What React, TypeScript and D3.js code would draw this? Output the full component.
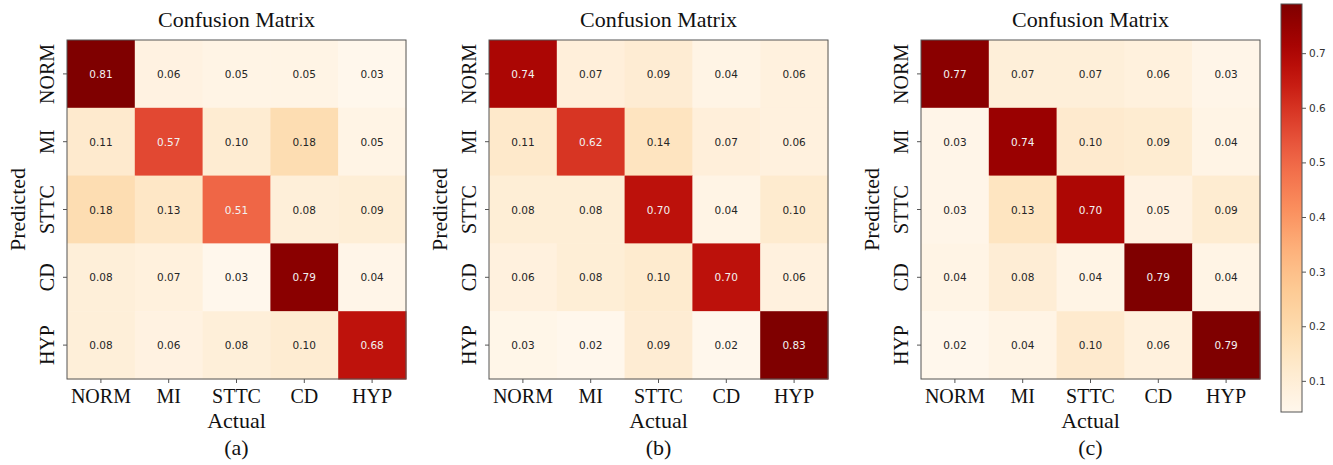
import React, { useEffect, useRef } from 'react';
import * as d3 from 'd3';

const classes = ['NORM', 'MI', 'STTC', 'CD', 'HYP'];
const panelLabels = ['(a)', '(b)', '(c)'];

const matrixA = [
  [0.81, 0.06, 0.05, 0.05, 0.03],
  [0.11, 0.57, 0.10, 0.18, 0.05],
  [0.18, 0.13, 0.51, 0.08, 0.09],
  [0.08, 0.07, 0.03, 0.79, 0.04],
  [0.08, 0.06, 0.08, 0.10, 0.68],
];
const matrixB = [
  [0.74, 0.07, 0.09, 0.04, 0.06],
  [0.11, 0.62, 0.14, 0.07, 0.06],
  [0.08, 0.08, 0.70, 0.04, 0.10],
  [0.06, 0.08, 0.10, 0.70, 0.06],
  [0.03, 0.02, 0.09, 0.02, 0.83],
];
const matrixC = [
  [0.77, 0.07, 0.07, 0.06, 0.03],
  [0.03, 0.74, 0.10, 0.09, 0.04],
  [0.03, 0.13, 0.70, 0.05, 0.09],
  [0.04, 0.08, 0.04, 0.79, 0.04],
  [0.02, 0.04, 0.10, 0.06, 0.79],
];
const matrices = [matrixA, matrixB, matrixC];

const colorbarRange = [0.043, 0.79];
const colorbarTicks = [0.1, 0.2, 0.3, 0.4, 0.5, 0.6, 0.7];

const serif = '"Liberation Serif", "Times New Roman", serif';
const sans = '"DejaVu Sans", sans-serif';

const W = 1333;
const H = 465;
const panelLeft = [67, 489, 921];
const top = 40;
const size = 339;

function App() {
  const ref = useRef<SVGSVGElement>(null);

  useEffect(() => {
    const svg = d3.select(ref.current);
    svg.selectAll('*').remove();

    matrices.forEach((m, pi) => {
      const left = panelLeft[pi];
      const g = svg.append('g').attr('transform', `translate(${left},${top})`);

      const x = d3.scaleBand().domain(classes).range([0, size]);
      const y = d3.scaleBand().domain(classes).range([0, size]);
      const flat = m.flat();
      const color = d3
        .scaleSequential(d3.interpolateOrRd)
        .domain([d3.min(flat) as number, d3.max(flat) as number]);
      const thresh = (d3.max(flat) as number) / 2;

      const cells = m.flatMap((row, r) =>
        row.map((v, c) => ({ r: classes[r], c: classes[c], v }))
      );

      g.selectAll('rect.cell')
        .data(cells)
        .enter()
        .append('rect')
        .attr('class', 'cell')
        .attr('x', (d) => x(d.c) as number)
        .attr('y', (d) => y(d.r) as number)
        .attr('width', x.bandwidth() + 0.5)
        .attr('height', y.bandwidth() + 0.5)
        .attr('fill', (d) => color(d.v));

      g.selectAll('text.val')
        .data(cells)
        .enter()
        .append('text')
        .attr('class', 'val')
        .attr('x', (d) => (x(d.c) as number) + x.bandwidth() / 2)
        .attr('y', (d) => (y(d.r) as number) + y.bandwidth() / 2)
        .attr('text-anchor', 'middle')
        .attr('dominant-baseline', 'central')
        .attr('font-family', sans)
        .attr('font-size', 10.5)
        .attr('fill', (d) => (d.v > thresh ? '#f2f2f2' : '#262626'))
        .text((d) => d.v.toFixed(2));

      g.append('rect')
        .attr('width', size)
        .attr('height', size)
        .attr('fill', 'none')
        .attr('stroke', '#555')
        .attr('stroke-width', 1);

      // ticks
      const xAxis = g
        .append('g')
        .attr('transform', `translate(0,${size})`)
        .call(d3.axisBottom(x).tickSize(4).tickPadding(6));
      xAxis.select('.domain').remove();
      xAxis.selectAll('line').attr('stroke', '#555');
      xAxis
        .selectAll('text')
        .attr('font-family', serif)
        .attr('font-size', 20)
        .attr('fill', '#111');

      const yAxis = g.append('g').call(d3.axisLeft(y).tickSize(4).tickFormat(() => ''));
      yAxis.select('.domain').remove();
      yAxis.selectAll('line').attr('stroke', '#555');

      g.selectAll('text.ylab')
        .data(classes)
        .enter()
        .append('text')
        .attr('class', 'ylab')
        .attr(
          'transform',
          (d) => `translate(-13,${(y(d) as number) + y.bandwidth() / 2}) rotate(-90)`
        )
        .attr('text-anchor', 'middle')
        .attr('font-family', serif)
        .attr('font-size', 20)
        .attr('fill', '#111')
        .text((d) => d);

      g.append('text')
        .attr('transform', `translate(-42,${size / 2}) rotate(-90)`)
        .attr('text-anchor', 'middle')
        .attr('font-family', serif)
        .attr('font-size', 22)
        .attr('fill', '#111')
        .text('Predicted');

      g.append('text')
        .attr('x', size / 2)
        .attr('y', -13)
        .attr('text-anchor', 'middle')
        .attr('font-family', serif)
        .attr('font-size', 22)
        .attr('fill', '#111')
        .text('Confusion Matrix');

      g.append('text')
        .attr('x', size / 2)
        .attr('y', size + 49)
        .attr('text-anchor', 'middle')
        .attr('font-family', serif)
        .attr('font-size', 22)
        .attr('fill', '#111')
        .text('Actual');

      g.append('text')
        .attr('x', size / 2)
        .attr('y', size + 76)
        .attr('text-anchor', 'middle')
        .attr('font-family', serif)
        .attr('font-size', 22)
        .attr('fill', '#111')
        .text(panelLabels[pi]);
    });

    // colorbar
    const cbX = 1281;
    const cbW = 21;
    const cbTop = 4;
    const cbBottom = 412;
    const cbScale = d3.scaleLinear().domain(colorbarRange).range([cbBottom, cbTop]);
    const cbColor = d3.scaleSequential(d3.interpolateOrRd).domain(colorbarRange);

    const defs = svg.append('defs');
    const grad = defs
      .append('linearGradient')
      .attr('id', 'cbgrad')
      .attr('x1', 0)
      .attr('y1', 1)
      .attr('x2', 0)
      .attr('y2', 0);
    d3.range(0, 1.0001, 0.05).forEach((t) => {
      grad
        .append('stop')
        .attr('offset', t)
        .attr('stop-color', cbColor(colorbarRange[0] + t * (colorbarRange[1] - colorbarRange[0])));
    });

    svg
      .append('rect')
      .attr('x', cbX)
      .attr('y', cbTop)
      .attr('width', cbW)
      .attr('height', cbBottom - cbTop)
      .attr('fill', 'url(#cbgrad)')
      .attr('stroke', '#555')
      .attr('stroke-width', 1);

    const cbAxis = svg
      .append('g')
      .attr('transform', `translate(${cbX + cbW},0)`)
      .call(
        d3
          .axisRight(cbScale)
          .tickValues(colorbarTicks)
          .tickSize(4)
          .tickPadding(3)
          .tickFormat(d3.format('.1f'))
      );
    cbAxis.select('.domain').remove();
    cbAxis.selectAll('line').attr('stroke', '#555');
    cbAxis
      .selectAll('text')
      .attr('font-family', sans)
      .attr('font-size', 10.5)
      .attr('fill', '#333');
  }, []);

  return (
    <svg
      ref={ref}
      width={W}
      height={H}
      style={{ position: 'absolute', left: 0, top: 0, background: '#fff' }}
    />
  );
}

export default App;
